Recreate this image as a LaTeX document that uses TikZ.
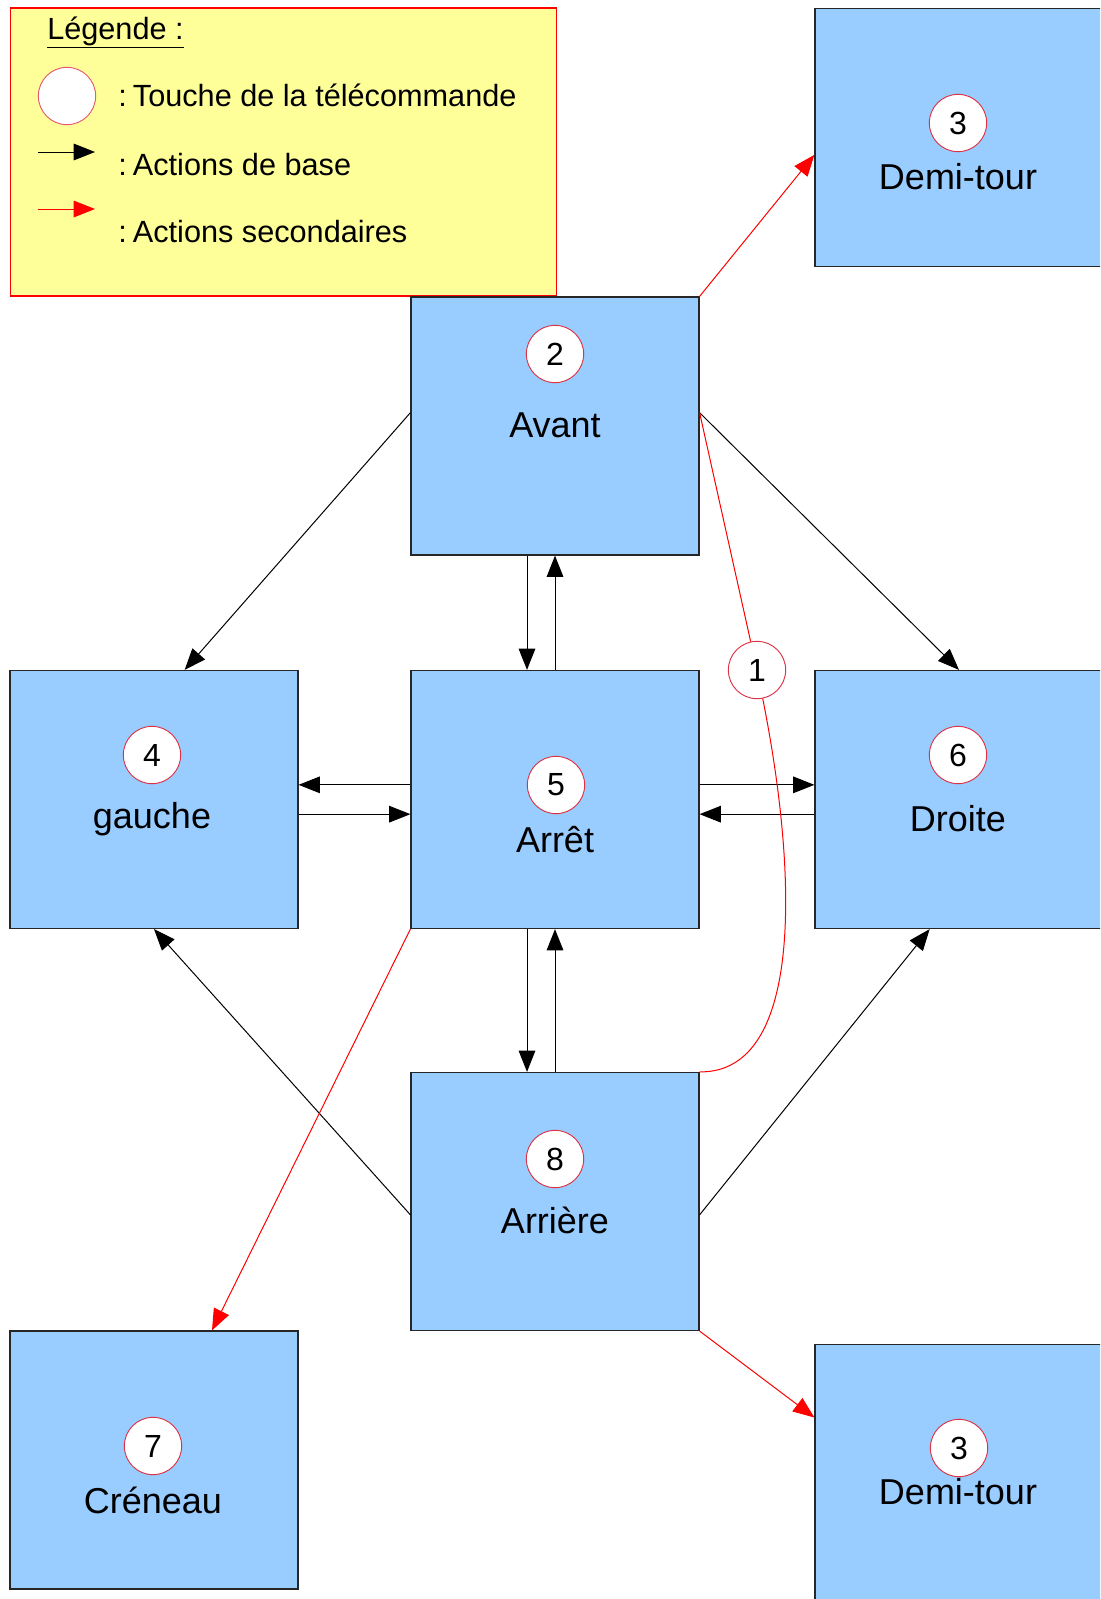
\documentclass[tikz,border=0pt]{standalone}
\usepackage{fontspec}
\setmainfont{Liberation Sans}
\usetikzlibrary{arrows.meta}
\definecolor{bleu}{RGB}{153,204,255}
\definecolor{jaune}{RGB}{255,255,153}
\definecolor{rougeT}{RGB}{220,50,70}
\begin{document}
\begin{tikzpicture}[x=0.75pt,y=0.75pt,yscale=-1,xscale=1,
  boite/.style={draw=black!85, line width=0.9pt, fill=bleu, minimum width=216pt, minimum height=193.5pt, inner sep=0pt},
  touche/.style={circle, draw=rougeT, fill=white, line width=0.7pt, minimum size=43pt, inner sep=0pt, font=\fontsize{24}{28}\selectfont},
  nom/.style={inner sep=0pt, font=\fontsize{27}{32}\selectfont},
  texte/.style={inner sep=0pt, anchor=base west, font=\fontsize{23}{27}\selectfont},
  base/.style={draw=black, line width=0.75pt, -{Triangle[length=16pt,width=12.5pt]}},
  second/.style={draw=red, line width=0.75pt, -{Triangle[length=16pt,width=12.5pt]}}]
\useasboundingbox (0,0) rectangle (1100,1599);
\clip (0,0) rectangle (1100,1599);

% Legende
\node[draw=red, fill=jaune, line width=0.9pt, minimum width=410pt, minimum height=216pt, inner sep=0pt] (leg) at (283.5,152) {};
\node[texte] (titre) at (47,39) {\underline{Légende :}};
\node[touche, draw=rougeT!80] (lc) at (67,96) {};
\node[texte] (ltouche) at (118,106) {:\hspace{0.2em}Touche de la télécommande};
\coordinate (lb1) at (38,152);
\coordinate (lb2) at (95,152);
\draw[base] (lb1) -- (lb2);
\node[texte] (lbase) at (118,175) {:\hspace{0.2em}Actions de base};
\coordinate (lr1) at (38,209);
\coordinate (lr2) at (95,209);
\draw[second] (lr1) -- (lr2);
\node[texte] (lsecond) at (118,242) {:\hspace{0.2em}Actions secondaires};

% Boites
\node[boite] (avant) at (555,426) {};
\node[boite] (demi1) at (959,137.5) {};
\node[boite] (gauche) at (154,799.5) {};
\node[boite] (arret) at (555,799.5) {};
\node[boite] (droite) at (959,799.5) {};
\node[boite] (arriere) at (555,1201.5) {};
\node[boite] (creneau) at (154,1460) {};
\node[boite] (demi2) at (959,1473.5) {};

% Touches et noms
\node[touche] (t2) at (555,354) {2};
\node[nom] (navant) at (555,425) {Avant};
\node[touche] (t3a) at (958,123) {3};
\node[nom] (ndemi1) at (958,177) {Demi-tour};
\node[touche] (t4) at (152,755) {4};
\node[nom] (ngauche) at (152,819) {gauche};
\node[touche] (t5) at (556,785) {5};
\node[nom] (narret) at (555,840) {Arrêt};
\node[touche] (t6) at (958,755) {6};
\node[nom] (ndroite) at (958,819) {Droite};
\node[touche] (t8) at (555,1159) {8};
\node[nom] (narriere) at (555,1220) {Arrière};
\node[touche] (t7) at (153,1446) {7};
\node[nom] (ncreneau) at (153,1500) {Créneau};
\node[touche] (t3b) at (959,1448) {3};
\node[nom] (ndemi2) at (958,1492) {Demi-tour};

% Actions de base
\draw[base] ([yshift=-10pt]avant.west) -- ([xshift=23pt]gauche.north);
\draw[base] ([yshift=-10pt]avant.east) -- (droite.north);
\draw[base] ([yshift=10pt]arriere.west) -- (gauche.south);
\draw[base] ([yshift=10pt]arriere.east) -- ([xshift=-22pt]droite.south);
\draw[base] ([xshift=-21pt]avant.south) -- ([xshift=-21pt]arret.north);
\draw[base] (arret.north) -- (avant.south);
\draw[base] ([xshift=-21pt]arret.south) -- ([xshift=-21pt]arriere.north);
\draw[base] (arriere.north) -- (arret.south);
\draw[base] ([yshift=-11pt]arret.west) -- ([yshift=-11pt]gauche.east);
\draw[base] ([yshift=11pt]gauche.east) -- ([yshift=11pt]arret.west);
\draw[base] ([yshift=-11pt]arret.east) -- ([yshift=-11pt]droite.west);
\draw[base] ([yshift=11pt]droite.west) -- ([yshift=11pt]arret.east);

% Actions secondaires
\draw[second] (avant.north east) -- ([yshift=13pt]demi1.west);
\draw[second] (arret.south west) -- ([xshift=43.5pt]creneau.north);
\draw[second] (arriere.south east) -- ([yshift=-42pt]demi2.west);
\node[touche] (t1) at (757,670) {1};
\draw[red, line width=0.75pt] ([yshift=-10pt]avant.east) -- (t1) .. controls (797,870) and (805,1073) .. (arriere.north east);
\end{tikzpicture}
\end{document}
